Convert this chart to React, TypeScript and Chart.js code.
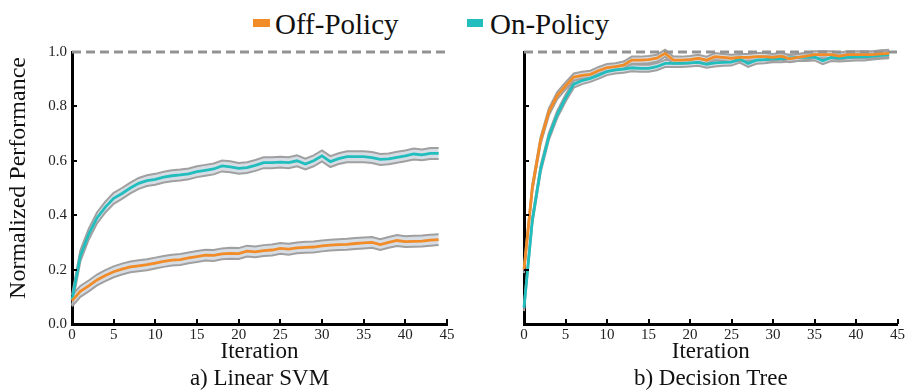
import React, { useEffect, useRef } from 'react';
import { Chart, registerables } from 'chart.js';

Chart.register(...registerables);

// ---------- data ----------
const ITERATIONS = [0,1,2,3,4,5,6,7,8,9,10,11,12,13,14,15,16,17,18,19,20,21,22,23,24,25,26,27,28,29,30,31,32,33,34,35,36,37,38,39,40,41,42,43,44];
const SERIES_NAMES = ['Off-Policy', 'On-Policy'];
const CAPTIONS = ['a) Linear SVM', 'b) Decision Tree'];
const X_TITLE = 'Iteration';
const Y_TITLE = 'Normalized Performance';
const REFERENCE_LEVEL = 1.0;

const SVM_OFF = [0.085,0.12,0.14,0.162,0.178,0.192,0.202,0.21,0.214,0.218,0.224,0.23,0.235,0.237,0.243,0.248,0.253,0.252,0.258,0.26,0.259,0.268,0.265,0.27,0.272,0.278,0.275,0.28,0.282,0.283,0.287,0.29,0.292,0.293,0.296,0.298,0.30,0.292,0.30,0.307,0.303,0.304,0.305,0.308,0.31];
const SVM_ON = [0.088,0.25,0.33,0.39,0.43,0.462,0.48,0.50,0.517,0.527,0.532,0.54,0.545,0.548,0.552,0.56,0.565,0.57,0.581,0.578,0.572,0.575,0.583,0.593,0.593,0.595,0.593,0.60,0.588,0.60,0.618,0.597,0.608,0.615,0.615,0.615,0.612,0.605,0.607,0.613,0.618,0.625,0.622,0.627,0.627];
const DT_OFF = [0.2,0.50,0.675,0.78,0.84,0.875,0.908,0.914,0.918,0.932,0.943,0.946,0.952,0.97,0.97,0.972,0.977,0.995,0.97,0.97,0.972,0.977,0.97,0.983,0.98,0.977,0.98,0.98,0.983,0.983,0.98,0.985,0.975,0.98,0.985,0.99,0.99,0.99,0.985,0.99,0.99,0.99,0.99,0.993,0.995];
const DT_ON = [0.06,0.38,0.57,0.69,0.77,0.83,0.882,0.895,0.903,0.915,0.928,0.934,0.937,0.942,0.94,0.94,0.946,0.958,0.958,0.958,0.96,0.962,0.955,0.96,0.962,0.963,0.974,0.958,0.97,0.972,0.975,0.975,0.978,0.98,0.98,0.982,0.968,0.98,0.978,0.98,0.982,0.982,0.985,0.988,0.99];

// half-width of the shaded confidence band per panel
const SVM_BAND = 0.02;
const DT_BAND = 0.013;

// ---------- styles ----------
const ORANGE = '#F28C28';
const TEAL = '#22BEBE';
const BAND_EDGE = '#a0a0a0';
const BAND_FILL = 'rgba(196,206,216,0.7)';
const FONT = '"Liberation Serif", "Times New Roman", serif';

const pts = (ys: number[], d = 0) => ITERATIONS.map((x, i) => ({ x, y: ys[i] + d }));

const innerTicks = {
  id: 'innerTicks',
  afterDraw(chart: any) {
    const { ctx, chartArea } = chart;
    const xs = chart.scales.x;
    const ys = chart.scales.y;
    ctx.save();
    ctx.strokeStyle = '#000';
    ctx.lineWidth = 2;
    ys.ticks.forEach((t: any) => {
      if (t.value <= 0.001 || t.value >= 0.999) return;
      const y = Math.round(ys.getPixelForValue(t.value));
      ctx.beginPath();
      ctx.moveTo(chartArea.left, y);
      ctx.lineTo(chartArea.left + 5, y);
      ctx.stroke();
    });
    xs.ticks.forEach((t: any) => {
      if (t.value <= 0) return;
      const x = Math.round(xs.getPixelForValue(t.value));
      ctx.beginPath();
      ctx.moveTo(x, chartArea.bottom);
      ctx.lineTo(x, chartArea.bottom - 5);
      ctx.stroke();
    });
    ctx.restore();
  },
};

const yTitlePlugin = {
  id: 'yTitle',
  afterDraw(chart: any, _args: any, opts: any) {
    if (!opts || !opts.text) return;
    const { ctx, chartArea } = chart;
    ctx.save();
    ctx.translate(opts.x, (chartArea.top + chartArea.bottom) / 2 + opts.dy);
    ctx.rotate(-Math.PI / 2);
    ctx.font = `${opts.size}px ${FONT}`;
    ctx.fillStyle = '#111';
    ctx.textAlign = 'center';
    ctx.textBaseline = 'middle';
    ctx.fillText(opts.text, 0, 0);
    ctx.restore();
  },
};

function makeConfig(off: number[], on: number[], band: number, caption: string, showY: boolean, yWidth: number, padRight: number) {
  const common = { pointRadius: 0, clip: false as any };
  return {
    type: 'line' as const,
    data: {
      datasets: [
        { ...common, label: SERIES_NAMES[0], data: pts(off), borderColor: ORANGE, borderWidth: 2.8, order: 0, fill: false },
        { ...common, label: SERIES_NAMES[1], data: pts(on), borderColor: TEAL, borderWidth: 2.8, order: 1, fill: false },
        { ...common, label: 'ref', data: [{ x: 0, y: REFERENCE_LEVEL }, { x: 45, y: REFERENCE_LEVEL }], borderColor: '#939393', borderWidth: 3, borderDash: [9, 5], order: 2, fill: false },
        { ...common, label: 'off-up', data: pts(off, band), borderColor: BAND_EDGE, borderWidth: 2, order: 3, fill: false },
        { ...common, label: 'off-lo', data: pts(off, -band), borderColor: BAND_EDGE, borderWidth: 2, order: 4, fill: '-1', backgroundColor: BAND_FILL },
        { ...common, label: 'on-up', data: pts(on, band), borderColor: BAND_EDGE, borderWidth: 2, order: 5, fill: false },
        { ...common, label: 'on-lo', data: pts(on, -band), borderColor: BAND_EDGE, borderWidth: 2, order: 6, fill: '-1', backgroundColor: BAND_FILL },
      ],
    },
    options: {
      animation: false,
      responsive: false,
      maintainAspectRatio: false,
      events: [],
      layout: { padding: { top: 52, right: padRight, left: 0, bottom: 0 } },
      elements: { line: { tension: 0 } },
      plugins: {
        legend: { display: false },
        tooltip: { enabled: false },
        yTitle: showY ? { text: Y_TITLE, x: 19, dy: -10, size: 24 } : { text: '' },
      },
      scales: {
        x: {
          type: 'linear',
          min: 0,
          max: 45,
          grid: { display: false, drawTicks: false },
          border: { display: true, color: '#000', width: 3 },
          ticks: { stepSize: 5, autoSkip: false, maxRotation: 0, color: '#222', padding: 2, font: { family: FONT, size: 15 } },
          title: { display: true, text: [X_TITLE, caption], color: '#111', padding: 0, font: { family: FONT, size: 23, lineHeight: 1.17 } },
          afterFit: (s: any) => { s.height = 68; },
        },
        y: {
          type: 'linear',
          min: 0,
          max: 1,
          grid: { display: false, drawTicks: false },
          border: { display: true, color: '#000', width: 3 },
          ticks: { display: showY, stepSize: 0.2, color: '#222', padding: 5, font: { family: FONT, size: 15 }, callback: (v: any) => Number(v).toFixed(1) },
          afterFit: (s: any) => { s.width = yWidth; },
        },
      },
    },
    plugins: [innerTicks, yTitlePlugin],
  };
}

export default function App() {
  const leftRef = useRef<HTMLCanvasElement>(null);
  const rightRef = useRef<HTMLCanvasElement>(null);

  useEffect(() => {
    const c1 = new Chart(leftRef.current as any, makeConfig(SVM_OFF, SVM_ON, SVM_BAND, CAPTIONS[0], true, 72, 13) as any);
    const c2 = new Chart(rightRef.current as any, makeConfig(DT_OFF, DT_ON, DT_BAND, CAPTIONS[1], false, 64, 9) as any);
    return () => { c1.destroy(); c2.destroy(); };
  }, []);

  const legendText: React.CSSProperties = { position: 'absolute', top: 10, fontSize: 29, lineHeight: '29px', fontFamily: FONT, color: '#111', whiteSpace: 'nowrap' };

  return (
    <div style={{ position: 'fixed', left: 0, top: 0, width: 907, height: 392, background: '#fff', overflow: 'hidden' }}>
      <div style={{ position: 'absolute', left: 253, top: 19, width: 17, height: 8, background: ORANGE }} />
      <div style={{ ...legendText, left: 275 }}>{SERIES_NAMES[0]}</div>
      <div style={{ position: 'absolute', left: 467, top: 19, width: 16, height: 8, background: TEAL }} />
      <div style={{ ...legendText, left: 490 }}>{SERIES_NAMES[1]}</div>
      <canvas ref={leftRef} width={460} height={392} style={{ position: 'absolute', left: 0, top: 0 }} />
      <canvas ref={rightRef} width={447} height={392} style={{ position: 'absolute', left: 460, top: 0 }} />
    </div>
  );
}
